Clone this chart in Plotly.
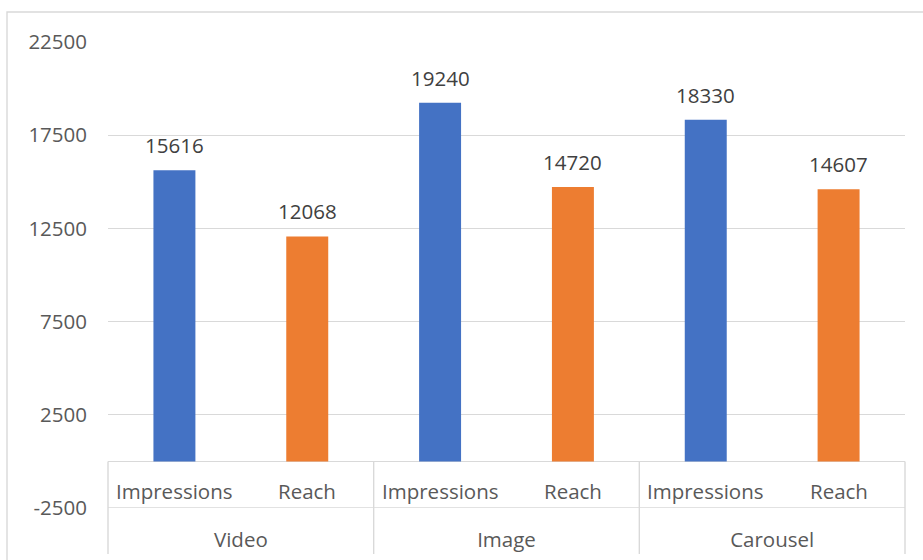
import plotly.graph_objects as go

# Post formats and the two metrics measured for each
formats = ["Video", "Image", "Carousel"]
metrics = ["Impressions", "Reach"]
impressions = [15616, 19240, 18330]
reach = [12068, 14720, 14607]

# Value axis
y_min, y_max = -2500, 22500
y_ticks = [-2500, 2500, 7500, 12500, 17500, 22500]
y_tick_text = [str(v) for v in y_ticks]

BLUE = "#4472C4"
ORANGE = "#ED7D31"
GRID = "#D9D9D9"
AXIS_TEXT = "#595959"
LABEL_TEXT = "#404040"
FONT = "Open Sans"
FS = 20.5

W, H = 923, 560
ML, MR, MT, MB = 108, 18, 42, 52
PW, PH = W - ML - MR, H - MT - MB

n = len(formats)
x_imp = [2 * i for i in range(n)]
x_reach = [2 * i + 1 for i in range(n)]
bar_w = 0.316

fig = go.Figure()
fig.add_trace(go.Bar(x=x_imp, y=impressions, width=bar_w, name=metrics[0],
                     marker=dict(color=BLUE, line=dict(width=0))))
fig.add_trace(go.Bar(x=x_reach, y=reach, width=bar_w, name=metrics[1],
                     marker=dict(color=ORANGE, line=dict(width=0))))

annotations = []
# value labels above each bar
for xs, vals in ((x_imp, impressions), (x_reach, reach)):
    for x, v in zip(xs, vals):
        annotations.append(dict(x=x, y=v, xref="x", yref="y", text=str(v),
                                showarrow=False, yanchor="bottom", yshift=9,
                                font=dict(family=FONT, size=FS, color=LABEL_TEXT)))
# metric labels in the first row of the category table
for x, lab in zip(x_imp + x_reach, [metrics[0]] * n + [metrics[1]] * n):
    annotations.append(dict(x=x, y=y_min / 2, xref="x", yref="y", text=lab,
                            showarrow=False, yanchor="middle", yshift=-6,
                            font=dict(family=FONT, size=FS, color=AXIS_TEXT)))

# category table lines: verticals from the zero line down past the plot area
zero_frac = (0 - y_min) / (y_max - y_min)
bottom_frac = -(554 - (MT + PH)) / PH
shapes = []
for xr, xv in [("x domain", 0), ("x", 1.5), ("x", 3.5), ("x domain", 1)]:
    shapes.append(dict(type="line", xref=xr, yref="paper", x0=xv, x1=xv,
                       y0=zero_frac, y1=bottom_frac,
                       line=dict(color=GRID, width=1.4)))
shapes.append(dict(type="line", xref="paper", yref="y", x0=0, x1=1,
                   y0=y_min, y1=y_min, line=dict(color=GRID, width=1.4)))
# chart area border
shapes.append(dict(type="rect", xref="paper", yref="paper",
                   x0=(7 - ML) / PW, x1=(W + 10 - ML) / PW,
                   y0=-(H + 10 - MT - PH) / PH, y1=(MT + PH - 12) / PH,
                   line=dict(color=GRID, width=1.4), fillcolor="rgba(0,0,0,0)",
                   layer="below"))

fig.update_layout(
    width=W, height=H,
    margin=dict(l=ML, r=MR, t=MT, b=MB, autoexpand=False),
    paper_bgcolor="white", plot_bgcolor="white",
    showlegend=False,
    font=dict(family=FONT, size=FS, color=AXIS_TEXT),
    annotations=annotations,
    shapes=shapes,
    xaxis=dict(range=[-0.5, 2 * n - 0.5],
               tickvals=[2 * i + 0.5 for i in range(n)], ticktext=formats,
               ticks="", showline=False, showgrid=False, zeroline=False,
               ticklabelstandoff=17, automargin=False,
               tickfont=dict(family=FONT, size=FS, color=AXIS_TEXT)),
    yaxis=dict(range=[y_min, y_max], tickvals=y_ticks, ticktext=y_tick_text,
               ticks="", showline=False, showgrid=True, gridcolor=GRID,
               gridwidth=1.4, zeroline=True, zerolinecolor=GRID,
               zerolinewidth=1.4, ticklabelstandoff=20, automargin=False,
               tickfont=dict(family=FONT, size=FS, color=AXIS_TEXT)),
)

fig.write_html("out.html")
